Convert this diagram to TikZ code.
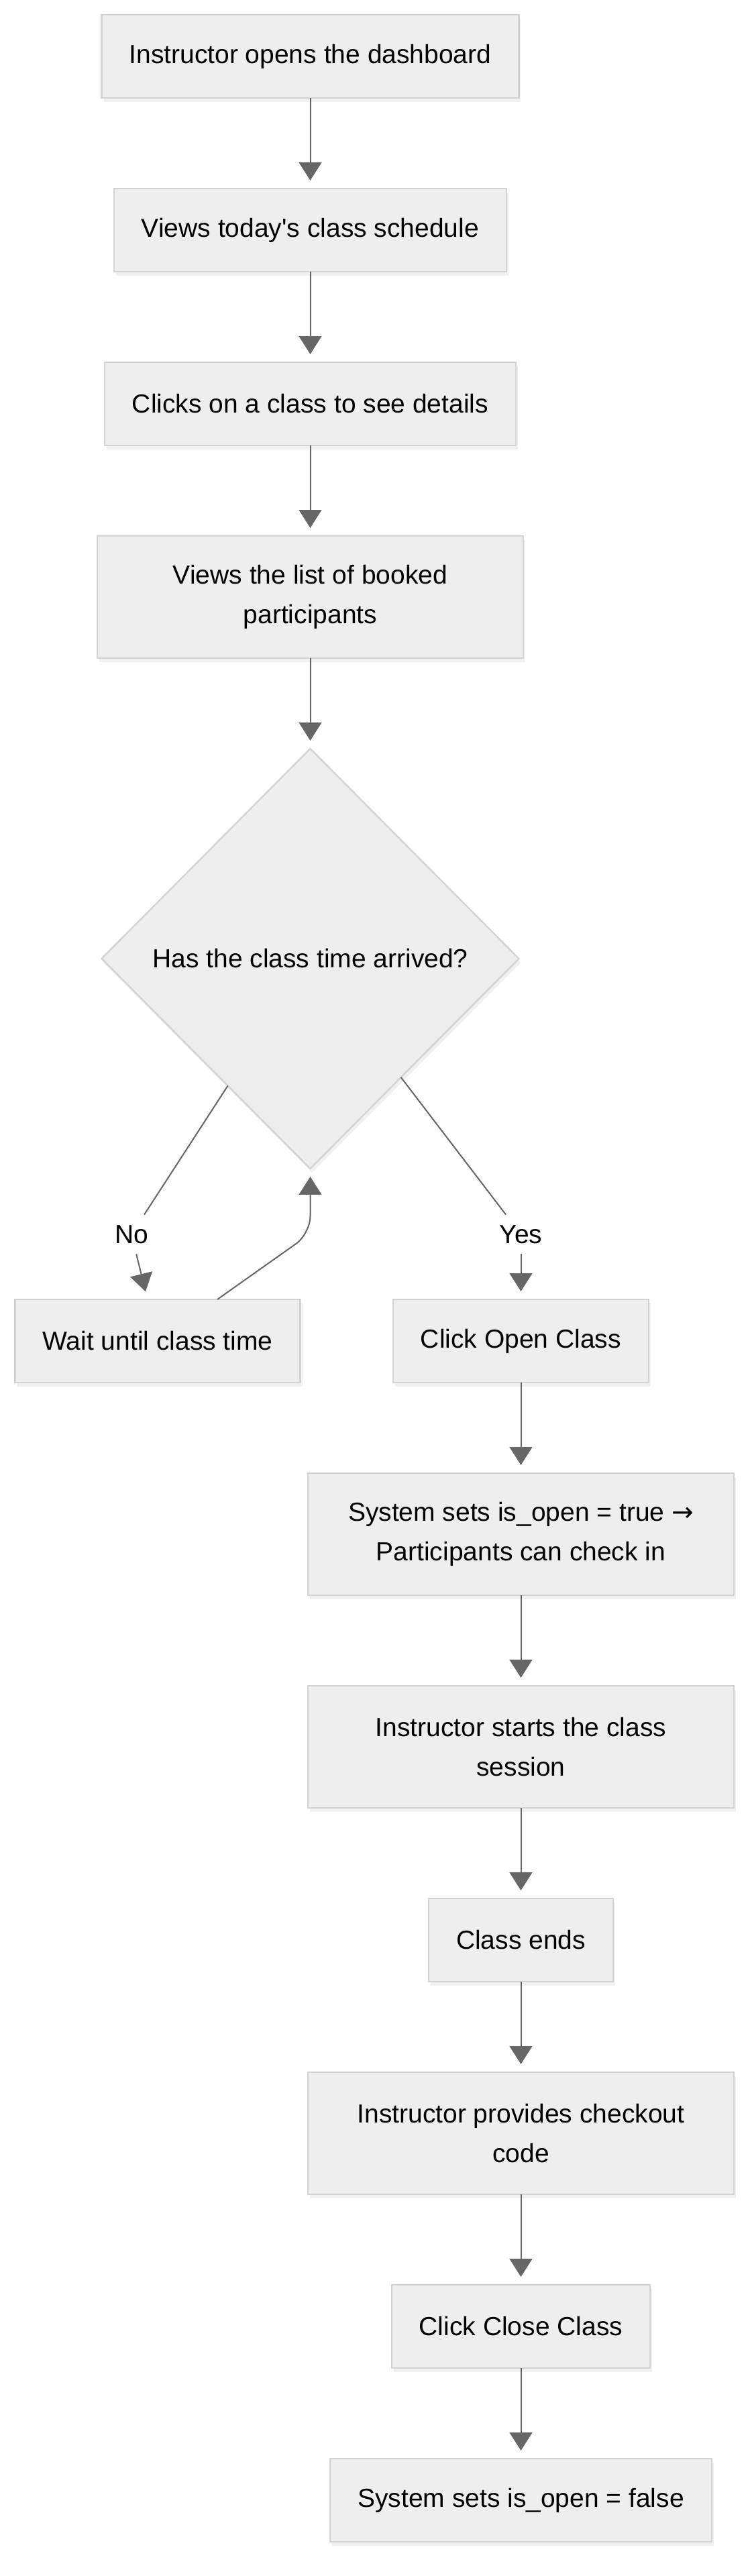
\documentclass[tikz,border=0pt]{standalone}
\usepackage{fontspec}
\setmainfont{Liberation Sans}[Ligatures=TeXOff]
\newfontfamily\arrowfont{DejaVu Sans}
\usepackage{xcolor}
\usetikzlibrary{arrows.meta,positioning,shapes.geometric,shadows}
\definecolor{boxfill}{HTML}{EEEEEE}
\definecolor{boxline}{HTML}{D3D3D3}
\definecolor{edge}{HTML}{666666}

\begin{document}
\begin{tikzpicture}[
  node distance=67.5pt,
  font=\fontsize{19.5}{29.4}\selectfont,
  box/.style={draw=boxline, line width=1.2pt, fill=boxfill, align=center,
              minimum height=62pt, inner xsep=20.5pt, inner ysep=0pt, outer sep=0pt,
              drop shadow={shadow xshift=1.5pt, shadow yshift=-3pt, opacity=0.12}},
  wide/.style={box, minimum width=317.5pt, minimum height=91pt},
  dec/.style={box, diamond, aspect=1, minimum width=311pt, minimum height=313pt,
              inner sep=0pt},
  lbl/.style={inner sep=0pt, minimum height=29pt},
  arr/.style={-{Triangle[length=13.4pt, width=16.8pt]}, draw=edge, fill=edge,
              line width=1pt, shorten >=6pt}]
\useasboundingbox (0,0) rectangle (560pt,-1920pt);
\node[box] (dash) at (231.25pt,-42pt) {Instructor opens the dashboard};
\node[box, below=of dash] (sched) {Views today's class schedule};
\node[box, below=of sched] (det) {Clicks on a class to see details};
\node[wide, below=of det] (list) {Views the list of booked\\ participants};
\node[dec, below=of list] (dec) {Has the class time arrived?};
\node[box, below=97.5pt of dec, xshift=-113.75pt] (wait) {Wait until class time};
\node[box, below=97.5pt of dec, xshift=157pt] (open) {Click Open Class};
\node[wide, below=of open] (sysopen) {System sets is\_open = true {\arrowfont →}\\ Participants can check in};
\node[wide, below=of sysopen] (start) {Instructor starts the class\\ session};
\node[box, below=of start] (ends) {Class ends};
\node[wide, below=of ends] (code) {Instructor provides checkout\\ code};
\node[box, below=of code] (close) {Click Close Class};
\node[box, below=of close] (sysclose) {System sets is\_open = false};
% branch labels
\node[lbl] (no) at ([xshift=-19.5pt, yshift=48.5pt]wait.north) {No};
\node[lbl] (yes) at ([yshift=48.5pt]open.north) {Yes};
\draw[arr] (dash) -- (sched);
\draw[arr] (sched) -- (det);
\draw[arr] (det) -- (list);
\draw[arr] (list) -- (dec);
\draw[draw=edge, line width=1pt] (dec) -- (no);
\draw[arr] (no) -- (wait);
\draw[draw=edge, line width=1pt] (dec) -- (yes);
\draw[arr] (yes) -- (open);
\draw[arr, fill=none, rounded corners=13pt] ([xshift=44.5pt]wait.north) -- ([yshift=-48.5pt]dec.south) -- (dec.south);
\draw[arr] (open) -- (sysopen);
\draw[arr] (sysopen) -- (start);
\draw[arr] (start) -- (ends);
\draw[arr] (ends) -- (code);
\draw[arr] (code) -- (close);
\draw[arr] (close) -- (sysclose);
\end{tikzpicture}
\end{document}
